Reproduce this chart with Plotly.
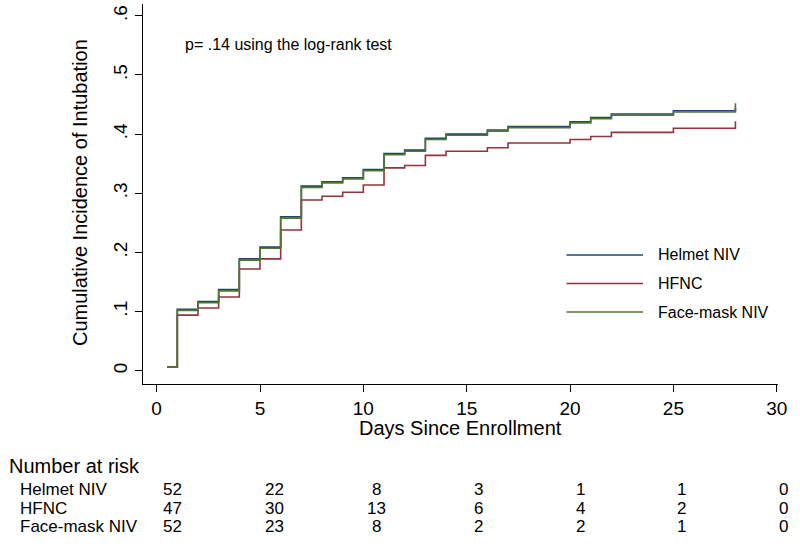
import plotly.graph_objects as go

# ---- data ----
days = [0.5, 1, 2, 3, 4, 5, 6, 7, 8, 9, 10, 11, 12, 13, 14, 16, 17, 20, 21, 22, 25, 28]
helmet_niv = [0.006, 0.104, 0.117, 0.137, 0.189, 0.209, 0.260, 0.312, 0.3195, 0.326, 0.340, 0.367,
              0.373, 0.393, 0.400, 0.407, 0.413, 0.421, 0.428, 0.434, 0.4395, 0.445]
hfnc = [0.006, 0.094, 0.106, 0.1245, 0.172, 0.189, 0.238, 0.2886, 0.2949, 0.3017, 0.314, 0.343,
        0.347, 0.364, 0.371, 0.377, 0.385, 0.391, 0.396, 0.403, 0.410, 0.4216]
face_mask_niv = [0.006, 0.102, 0.115, 0.135, 0.187, 0.207, 0.258, 0.310, 0.3175, 0.324, 0.338, 0.365,
                 0.371, 0.391, 0.398, 0.405, 0.411, 0.419, 0.426, 0.432, 0.4375, 0.452]

series_names = ["Helmet NIV", "HFNC", "Face-mask NIV"]
series_values = [helmet_niv, hfnc, face_mask_niv]
colors = ["#1a476f", "#90353b", "#55752f"]

x_ticks = [0, 5, 10, 15, 20, 25, 30]
y_tickvals = [0, 0.1, 0.2, 0.3, 0.4, 0.5, 0.6]
y_ticktext = ["0", ".1", ".2", ".3", ".4", ".5", ".6"]

risk_days = [0, 5, 10, 15, 20, 25, 30]
risk_helmet = [52, 22, 8, 3, 1, 1, 0]
risk_hfnc = [47, 30, 13, 6, 4, 2, 0]
risk_face = [52, 23, 8, 2, 2, 1, 0]
risk_rows = [risk_helmet, risk_hfnc, risk_face]

FONT = "Liberation Sans, Arial, Helvetica, sans-serif"
W, H = 800, 549
L, R, T, B = 143, 778, 4, 384  # plot area in pixels


def px(xp):
    return (xp - L) / (R - L)


def py(yp):
    return (B - yp) / (B - T)


fig = go.Figure()
for name, vals, c in zip(series_names, series_values, colors):
    fig.add_trace(go.Scatter(x=days, y=vals, mode="lines", line=dict(color=c, width=1.6, shape="hv"),
                             name=name, showlegend=False, hoverinfo="skip"))

annotations = []
shapes = []

# p-value note
annotations.append(dict(text="p= .14 using the log-rank test", xref="paper", yref="paper",
                        x=px(183), y=py(44), xanchor="left", yanchor="middle", showarrow=False,
                        font=dict(size=16, color="black", family=FONT)))

# manual legend
leg_y = [255, 283.5, 312]
for name, c, yy in zip(series_names, colors, leg_y):
    shapes.append(dict(type="line", xref="paper", yref="paper", x0=px(566.5), x1=px(643),
                       y0=py(yy), y1=py(yy), line=dict(color=c, width=1.6)))
    annotations.append(dict(text=name, xref="paper", yref="paper", x=px(656), y=py(yy),
                            xanchor="left", yanchor="middle", showarrow=False,
                            font=dict(size=16, color="black", family=FONT)))

# axis titles
annotations.append(dict(text="Days Since Enrollment", xref="paper", yref="paper", x=0.5, y=py(428),
                        xanchor="center", yanchor="middle", showarrow=False,
                        font=dict(size=20, color="black", family=FONT)))
annotations.append(dict(text="Cumulative Incidence of Intubation", xref="paper", yref="paper",
                        x=px(80), y=py(193), xanchor="center", yanchor="middle", showarrow=False,
                        textangle=-90, font=dict(size=20, color="black", family=FONT)))

# number at risk table
annotations.append(dict(text="Number at risk", xref="paper", yref="paper", x=px(7), y=py(466),
                        xanchor="left", yanchor="middle", showarrow=False,
                        font=dict(size=20, color="black", family=FONT)))
row_y = [489, 508, 526.5]
for name, counts, yy in zip(series_names, risk_rows, row_y):
    annotations.append(dict(text=name, xref="paper", yref="paper", x=px(18), y=py(yy),
                            xanchor="left", yanchor="middle", showarrow=False,
                            font=dict(size=17, color="black", family=FONT)))
    for k, (d, n) in enumerate(zip(risk_days, counts)):
        annotations.append(dict(text=str(n), xref="x", yref="paper", x=d, xshift=16 - 1.5 * k,
                                y=py(yy), xanchor="center", yanchor="middle", showarrow=False,
                                font=dict(size=17, color="black", family=FONT)))

fig.update_layout(
    width=W, height=H,
    margin=dict(l=L, r=W - R, t=T, b=H - B),
    paper_bgcolor="white", plot_bgcolor="white",
    showlegend=False,
    annotations=annotations, shapes=shapes,
    xaxis=dict(range=[-0.66, 30.06], tickvals=x_ticks, ticks="outside", ticklen=7, tickwidth=1,
               tickcolor="black", showline=True, linecolor="black", linewidth=1, showgrid=False,
               zeroline=False, tickfont=dict(size=19, color="black", family=FONT)),
    yaxis=dict(range=[-0.0225, 0.62], tickvals=y_tickvals, ticktext=y_ticktext, ticks="outside",
               ticklen=7, tickwidth=1, tickcolor="black", showline=True, linecolor="black",
               linewidth=1, showgrid=False, zeroline=False, tickangle=-90,
               tickfont=dict(size=19, color="black", family=FONT)),
)

fig.write_html("out.html", config={"displayModeBar": False},
               post_script="document.body.style.margin='0';")
